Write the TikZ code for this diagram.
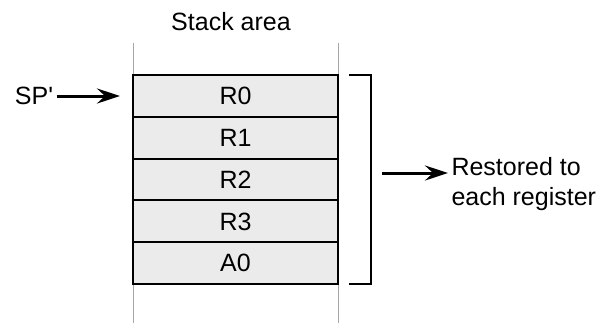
\documentclass[tikz,border=0pt]{standalone}
\usepackage{fontspec}
\newfontfamily\lsans{Liberation Sans}
\usetikzlibrary{arrows.meta,positioning}

\begin{document}
\begin{tikzpicture}[x=1pt,y=-1pt,
  txt/.style={font=\lsans\fontsize{25}{30}\selectfont},
  slot/.style={draw, line width=2pt, fill=gray!16, minimum width=205pt,
    minimum height=42pt, inner sep=0pt, txt},
  guide/.style={gray!70, line width=1pt},
  ptr/.style={line width=3pt, -{Stealth[length=23pt,width=15pt,inset=8pt]}}]
  \useasboundingbox (0,0) rectangle (615,325);
  % guide lines of the stack area
  \coordinate (gl1) at (133,43);  \coordinate (gl2) at (133,323);
  \coordinate (gr1) at (338,43);  \coordinate (gr2) at (338,323);
  \draw[guide] (gl1) -- (gl2);
  \draw[guide] (gr1) -- (gr2);
  \node[txt] (title) at (231,22) {Stack area};
  % stacked registers
  \foreach \r [count=\i from 0] in {R0,R1,R2,R3,A0}
    \node[slot] (reg\i) at (235.5,96+41.8*\i) {\r};
  % stack pointer
  \node[txt] (sp) at (34,96) {SP'};
  \draw[ptr, shorten >=12pt] (sp.east) -- (reg0.west);
  % bracket and result
  \coordinate (bt) at (349,75);
  \coordinate (bb) at (349,284);
  \draw[line width=2pt] (bt) -- ++(22,0) |- (bb);
  \node[txt, align=left, anchor=west] (rest) at (448,184) {Restored to\\each register};
  \coordinate (rs) at (382,173);
  \draw[ptr] (rs) -- (rs -| rest.west);
\end{tikzpicture}
\end{document}
